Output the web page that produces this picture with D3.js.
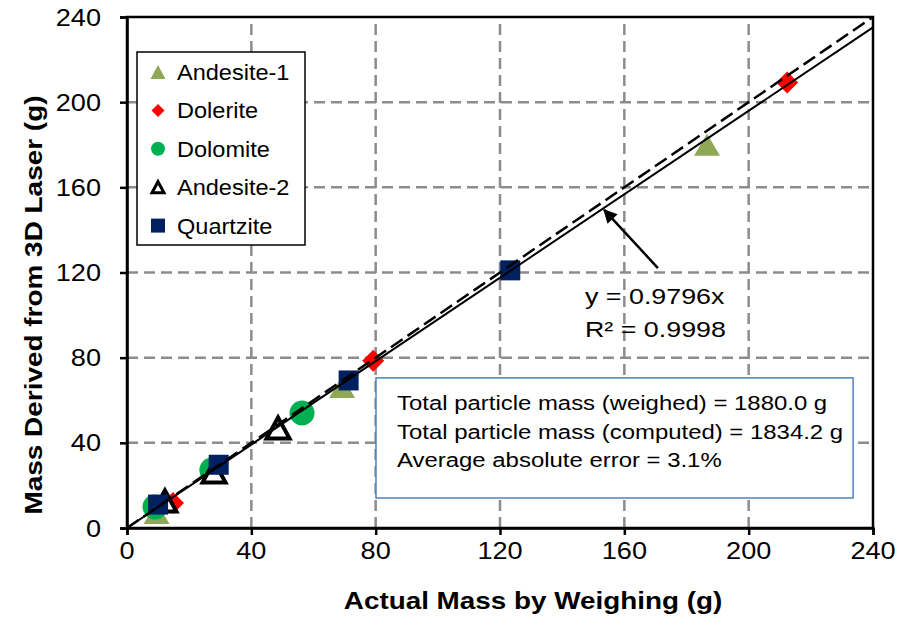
<!DOCTYPE html>
<html><head><meta charset="utf-8">
<script src="https://cdn.jsdelivr.net/npm/d3@7"></script>
<style>body{margin:0;background:#fff}svg{display:block}text{font-family:"Liberation Sans",Arial,sans-serif}</style>
</head><body><svg id="c" width="912" height="618"></svg>
<script>
// ---- data ----
const xTicks = [0, 40, 80, 120, 160, 200, 240];
const yTicks = [0, 40, 80, 120, 160, 200, 240];
const andesite1 = [[9.5, 7.0], [69.2, 66.2], [186.6, 180.0]];
const dolerite  = [[14.8, 11.7], [79.2, 78.6], [212.4, 209.2]];
const dolomite  = [[9.0, 9.9], [27.3, 27.2], [56.3, 54.0]];
const andesite2 = [[12.2, 12.7], [28.0, 26.3], [48.6, 47.0]];
const quartzite = [[10.0, 11.0], [29.5, 29.7], [71.3, 69.3], [123.3, 121.0]];
const slope = 0.9796;
const eqLines = ["y = 0.9796x", "R\u00b2 = 0.9998"];
const statLines = ["Total particle mass (weighed) = 1880.0 g",
                   "Total particle mass (computed) = 1834.2 g",
                   "Average absolute error = 3.1%"];
const legendNames = ["Andesite-1", "Dolerite", "Dolomite", "Andesite-2", "Quartzite"];

const svg = d3.select("#c");
const x = d3.scaleLinear().domain([0, 240]).range([127, 873]);
const y = d3.scaleLinear().domain([0, 240]).range([528, 17]);

function txt(g, s, px, py, size, sx, anchor, bold, rot) {
  const t = g.append("text")
    .attr("transform", `translate(${px},${py})` + (rot ? ` rotate(${rot})` : "") + ` scale(${sx},1)`)
    .attr("font-size", size).attr("text-anchor", anchor || "start")
    .attr("fill", "#000").text(s);
  if (bold) t.attr("font-weight", "bold");
  return t;
}

// gridlines
const grid = svg.append("g");
grid.selectAll(".gx").data(xTicks.slice(1, -1)).join("line")
  .attr("x1", d => x(d)).attr("x2", d => x(d)).attr("y1", y(0)).attr("y2", y(240))
  .attr("stroke", "#8c8c8c").attr("stroke-width", 2.5).attr("stroke-dasharray", "11,6");
grid.selectAll(".gy").data(yTicks.slice(1, -1)).join("line")
  .attr("y1", d => y(d)).attr("y2", d => y(d)).attr("x1", x(0)).attr("x2", x(240))
  .attr("stroke", "#8c8c8c").attr("stroke-width", 2.5).attr("stroke-dasharray", "11,6");

// axes
const xAxis = svg.append("g").attr("transform", `translate(0,${y(0)})`)
  .call(d3.axisBottom(x).tickValues(xTicks).tickSize(7).tickFormat(""));
const yAxis = svg.append("g").attr("transform", `translate(${x(0)},0)`)
  .call(d3.axisLeft(y).tickValues(yTicks).tickSize(7).tickFormat(""));
[xAxis, yAxis].forEach(a => { a.selectAll("path,line").attr("stroke", "#000").attr("stroke-width", 2.5); });
svg.append("rect").attr("x", x(0)).attr("y", y(240)).attr("width", x(240) - x(0)).attr("height", y(0) - y(240))
  .attr("fill", "none").attr("stroke", "#000").attr("stroke-width", 2.5);

const lab = svg.append("g");
xTicks.forEach(d => txt(lab, String(d), x(d), 559, 24, 1.13, "middle"));
yTicks.forEach(d => txt(lab, String(d), 101, y(d) + 8.5, 24, 1.13, "end"));
txt(lab, "Actual Mass by Weighing (g)", 533, 609, 24, 1.16, "middle", true);
txt(lab, "Mass Derived from 3D Laser (g)", 42, 305, 24.5, 1.14, "middle", true, -90);

// markers
function tri(w, h) { return `M0,${-h / 2}L${w / 2},${h / 2}L${-w / 2},${h / 2}Z`; }
function dia(s) { return `M0,${-s / 2}L${s / 2},0L0,${s / 2}L${-s / 2},0Z`; }
function sq(s) { return `M${-s / 2},${-s / 2}h${s}v${s}h${-s}Z`; }
function circ(r) { return `M${r},0A${r},${r} 0 1,1 ${-r},0A${r},${r} 0 1,1 ${r},0Z`; }

const styles = [
  { data: andesite1, big: tri(26, 22), small: tri(15, 14), fill: "#8FA857", stroke: "none", sw: 0 },
  { data: dolerite, big: dia(22), small: dia(13), fill: "#FF0000", stroke: "none", sw: 0 },
  { data: dolomite, big: circ(12.5), small: circ(7), fill: "#00B050", stroke: "none", sw: 0 },
  { data: andesite2, big: tri(23, 21), small: tri(12, 11), fill: "#fff", stroke: "#000", sw: 4 },
  { data: quartzite, big: sq(20), small: sq(14), fill: "#002060", stroke: "none", sw: 0 }
];
const pts = svg.append("g");
styles.forEach(s => {
  pts.append("g").selectAll("path").data(s.data).join("path")
    .attr("transform", d => `translate(${x(d[0])},${y(d[1])})`)
    .attr("d", s.big).attr("fill", s.fill).attr("stroke", s.stroke).attr("stroke-width", s.sw)
    .attr("stroke-linejoin", "miter");
});

// lines: 1:1 dashed, regression solid
const line = d3.line().x(d => x(d[0])).y(d => y(d[1]));
svg.append("path").attr("d", line([[0, 0], [240, 240]])).attr("fill", "none")
  .attr("stroke", "#000").attr("stroke-width", 2.5).attr("stroke-dasharray", "14,6");
svg.append("path").attr("d", line([[0, 0], [240, 240 * slope]])).attr("fill", "none")
  .attr("stroke", "#000").attr("stroke-width", 2);

// arrow annotation
const defs = svg.append("defs");
defs.append("marker").attr("id", "ah").attr("viewBox", "0 0 10 10").attr("refX", 9).attr("refY", 5)
  .attr("markerWidth", 6).attr("markerHeight", 5.5).attr("markerUnits", "strokeWidth").attr("orient", "auto")
  .append("path").attr("d", "M0,0L10,5L0,10Z").attr("fill", "#000");
svg.append("line").attr("x1", x(170.8)).attr("y1", y(122.1)).attr("x2", x(153.5)).attr("y2", y(149.4))
  .attr("stroke", "#000").attr("stroke-width", 2.5).attr("marker-end", "url(#ah)");
txt(svg, eqLines[0], 585, 304, 22, 1.22, "start");
txt(svg, eqLines[1], 585, 336.7, 22, 1.22, "start");

// stats box
svg.append("rect").attr("x", x(80.1)).attr("y", y(70.5)).attr("width", x(233.6) - x(80.1)).attr("height", y(14.1) - y(70.5))
  .attr("fill", "#fff").attr("stroke", "#4F81BD").attr("stroke-width", 1.5);
statLines.forEach((s, i) => txt(svg, s, 397, 410 + i * 28.5, 21, 1.14, "start"));

// legend
const lg = svg.append("g");
lg.append("rect").attr("x", 137).attr("y", 52).attr("width", 168).attr("height", 193)
  .attr("fill", "#fff").attr("stroke", "#000").attr("stroke-width", 1.5);
styles.forEach((s, i) => {
  const cy = 72 + i * 38.4;
  lg.append("path").attr("transform", `translate(158,${cy})`).attr("d", s.small)
    .attr("fill", s.fill).attr("stroke", s.stroke).attr("stroke-width", s.sw ? 3 : 0);
  txt(lg, legendNames[i], 177, cy + 8, 22, 1.07, "start");
});
</script></body></html>
